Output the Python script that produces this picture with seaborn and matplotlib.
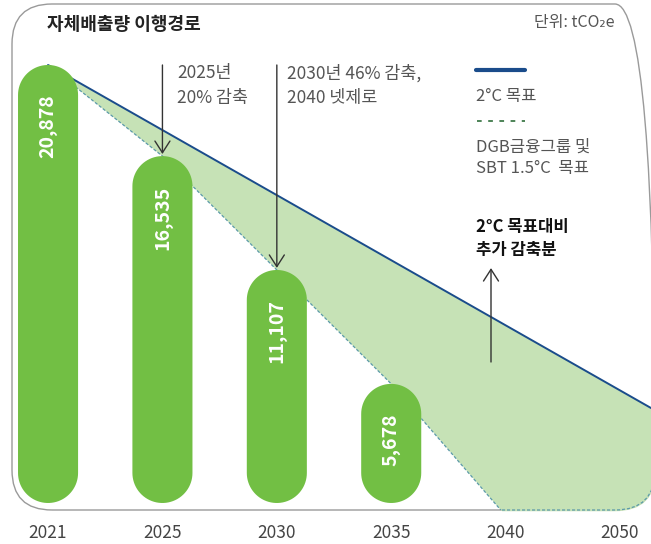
import numpy as np
import pandas as pd
import matplotlib.pyplot as plt
import seaborn as sns
from matplotlib.patches import FancyBboxPatch, Polygon
from matplotlib.lines import Line2D

# data
years = ['2021', '2025', '2030', '2035', '2040', '2050']
bar_years = ['2021', '2025', '2030', '2035']
emissions = [20878, 16535, 11107, 5678]
target_2c = [20878, 17776, 14674, 11572, 8470, 5368]      # 2°C 목표 (solid line)
target_sbt = [20878, 16535, 11107, 5678, -600, -600]      # DGB / SBT 1.5°C (dashed)

W, H = 651, 544
GREEN = '#72bf44'
FILL = '#c6e2b6'
BLUE = '#1a4c8b'
TEAL = '#5b9aa9'
GRAY = '#555555'

sns.set_theme(style='white')
plt.rcParams['font.family'] = ['Noto Sans CJK KR', 'DejaVu Sans']


def fx(px):
    return px / W


def fy(py):
    return 1 - py / H


fig = plt.figure(figsize=(W / 100, H / 100), dpi=100)
fig.patch.set_facecolor('white')
ax = fig.add_axes([0, 26 / H, 1, 518 / H])

df = pd.DataFrame({'year': bar_years, 'value': emissions})
sns.barplot(data=df, x='year', y='value', order=years, color=GREEN,
            saturation=1, width=0.525, ax=ax)

xmin, xmax = -0.42, 5.271
ymin, ymax = -715, 23975
ax.set_xlim(xmin, xmax)
ax.set_ylim(ymin, ymax)
aspect = ((ymax - ymin) / 518) / ((xmax - xmin) / W)

# rounded frame
frame_kw = dict(boxstyle=f'round,pad=0,rounding_size={40 / W}',
                mutation_aspect=W / H, transform=fig.transFigure, fill=False)
frame_xy = (fx(12), fy(510))
frame_wh = ((655 - 12) / W, (510 - 4) / H)
frame = FancyBboxPatch(frame_xy, *frame_wh, ec='#9a9a9a', lw=1.0, zorder=0.5, **frame_kw)
ax.add_patch(frame)

# pill shaped bars replacing seaborn's rectangles
for p in list(ax.patches):
    if p is frame:
        continue
    x0, w, h = p.get_x(), p.get_width(), p.get_height()
    p.remove()
    cx, rx = x0 + w / 2, w / 2
    ry = rx * aspect
    t1 = np.linspace(0, np.pi, 40)
    t2 = np.linspace(np.pi, 2 * np.pi, 40)
    top = np.column_stack([cx + rx * np.cos(t1), h - ry + ry * np.sin(t1)])
    bot = np.column_stack([cx + rx * np.cos(t2), ry + ry * np.sin(t2)])
    ax.add_patch(Polygon(np.vstack([top, bot]), closed=True, fc=GREEN, ec='none', zorder=3))

# pathway band
xx = list(range(len(years))) + [xmax]
upper = target_2c + [target_2c[-1] + (target_2c[-1] - target_2c[-2]) * (xmax - 5)]
lower = target_sbt + [target_sbt[-1]]
band = ax.fill_between(xx, lower, upper, color=FILL, lw=0, zorder=1)
band.set_clip_path(frame)
band_path = (band.get_paths()[0], ax.transData)

cover = FancyBboxPatch(frame_xy, *frame_wh, ec=FILL, lw=1.8, zorder=1.5, **frame_kw)
ax.add_patch(cover)
cover.set_clip_path(*band_path)
edge = FancyBboxPatch(frame_xy, *frame_wh, ec=TEAL, lw=0.9, ls=(0, (2.5, 1.5)), zorder=1.6, **frame_kw)
ax.add_patch(edge)
edge.set_clip_path(*band_path)

l1, = ax.plot(xx, upper, color=BLUE, lw=1.4, zorder=2)
l1.set_clip_path(frame)
l2, = ax.plot(xx, lower, color=TEAL, lw=0.9, ls=(0, (2.5, 1.5)), zorder=2)
l2.set_clip_path(frame)

# value labels
for i, v in enumerate(emissions):
    ax.annotate(f'{v:,}', xy=(i, v), xytext=(0, -21), textcoords='offset points',
                rotation=90, ha='center', va='top', color='white',
                fontsize=14, fontweight='bold', zorder=4)

# arrows to bars
arrow = dict(arrowstyle='->,head_length=0.7,head_width=0.45', color='#333333', lw=1,
             shrinkA=0, shrinkB=1.5)
for i in (1, 2):
    ax.annotate('', xy=(i, emissions[i]), xytext=(i, fy(65)),
                textcoords=('data', 'figure fraction'), arrowprops=arrow, zorder=5)
ax.annotate('', xy=(fx(491), fy(266)), xycoords='figure fraction',
            xytext=(fx(491), fy(362)), textcoords='figure fraction', arrowprops=arrow)

# axes styling
ax.set_xticks(range(len(years)))
ax.set_xticklabels(years)
ax.tick_params(axis='x', length=0, pad=4, labelsize=12.5, labelcolor='#444444')
ax.set_yticks([])
ax.set_xlabel('')
ax.set_ylabel('')
for s in ax.spines.values():
    s.set_visible(False)

# texts
fig.text(fx(47), fy(25), '자체배출량 이행경로', fontsize=13, fontweight='bold', color='#222222', va='center')
fig.text(fx(615), fy(22), '단위: tCO₂e', fontsize=11.5, color=GRAY, ha='right', va='center')

fig.text(fx(177), fy(73), '2025년', fontsize=12.5, color=GRAY, va='center')
fig.text(fx(177), fy(98), '20% 감축', fontsize=12.5, color=GRAY, va='center')
fig.text(fx(287), fy(73), '2030년 46% 감축,', fontsize=12.5, color=GRAY, va='center')
fig.text(fx(287), fy(98), '2040 넷제로', fontsize=12.5, color=GRAY, va='center')

fig.add_artist(Line2D([fx(476), fx(525)], [fy(70)] * 2, transform=fig.transFigure, color=BLUE, lw=3))
fig.text(fx(476), fy(96), '2°C 목표', fontsize=12, color=GRAY, va='center')
fig.add_artist(Line2D([fx(477), fx(525)], [fy(121)] * 2, transform=fig.transFigure,
                      color='#3f7a4a', lw=1.3, dashes=(2.6, 3.6)))
fig.text(fx(476), fy(147), 'DGB금융그룹 및', fontsize=12, color=GRAY, va='center')
fig.text(fx(476), fy(169), 'SBT 1.5°C  목표', fontsize=12, color=GRAY, va='center')

fig.text(fx(476), fy(227), '2°C 목표대비', fontsize=12, fontweight='bold', color='#111111', va='center')
fig.text(fx(476), fy(250), '추가 감축분', fontsize=12, fontweight='bold', color='#111111', va='center')

fig.savefig('out.png', dpi=100, facecolor='white')
